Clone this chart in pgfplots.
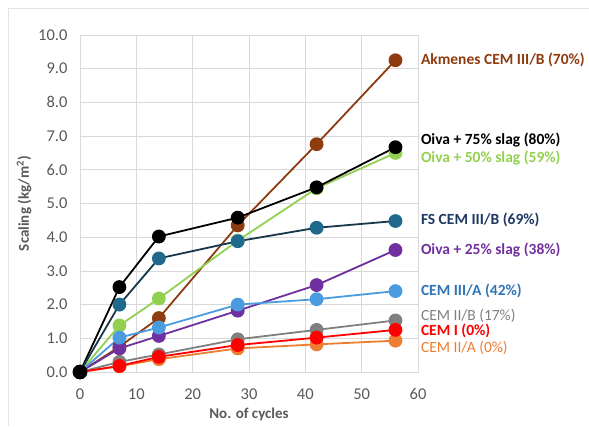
\documentclass[border=0pt]{standalone}
\usepackage{pgfplots}
\pgfplotsset{compat=1.18}
\usepackage{fontspec}
\setmainfont{Carlito}
\definecolor{cbrown}{HTML}{8E3B10}
\definecolor{cgreen}{HTML}{92D050}
\definecolor{cfsline}{HTML}{17384A}
\definecolor{cfsmark}{HTML}{1F6A8C}
\definecolor{cfslab}{HTML}{1F3864}
\definecolor{cpurple}{HTML}{7030A0}
\definecolor{cblue}{HTML}{4A9BE0}
\definecolor{cbluelab}{HTML}{2E75B6}
\definecolor{cgray}{HTML}{808080}
\definecolor{cred}{HTML}{FF0000}
\definecolor{corange}{HTML}{ED7D31}
\definecolor{ctick}{HTML}{595959}
\definecolor{cgrid}{HTML}{D9D9D9}
\begin{document}
\begin{tikzpicture}
\useasboundingbox (0pt,0pt) rectangle (589pt,426pt);
\draw[cgrid!70, line width=0.8pt] (8pt,0pt) -- (8pt,418pt) -- (589pt,418pt);
\begin{axis}[
  at={(80pt,54pt)}, anchor=south west,
  scale only axis, width=338pt, height=337pt,
  xmin=0, xmax=60, ymin=0, ymax=10,
  xtick={0,10,...,60}, ytick={0,1,...,10},
  grid=major, major grid style={cgrid, line width=0.8pt},
  axis line style={cgrid, line width=0.8pt},
  tick style={draw=none},
  ticklabel style={font=\fontsize{16.5}{18}\selectfont, text=ctick},
  yticklabel style={/pgf/number format/fixed, /pgf/number format/fixed zerofill, /pgf/number format/precision=1},
  /pgf/number format/assume math mode=true,
  xticklabel style={yshift=-13pt},
  yticklabel style={xshift=-9pt},
  xlabel={\bfseries No. of cycles}, ylabel={\bfseries Scaling (kg/m\textsuperscript{2})},
  label style={font=\fontsize{15}{17}\selectfont\bfseries, text=ctick},
  xlabel style={yshift=-1pt},
  ylabel style={yshift=0pt},
  clip=false,
  every axis plot/.append style={line width=1.8pt, mark=*, mark size=6pt},
]
\addplot[cbrown, mark options={fill=cbrown}] coordinates {(0,0) (7,0.75) (14,1.6) (28,4.35) (42,6.76) (56,9.25)};
\addplot[cgreen, mark options={fill=cgreen}] coordinates {(0,0) (7,1.38) (14,2.18) (28,3.9) (42,5.45) (56,6.5)};
\addplot[black, mark options={fill=black}] coordinates {(0,0) (7,2.52) (14,4.02) (28,4.58) (42,5.48) (56,6.67)};
\addplot[cfsline, mark options={fill=cfsmark, draw=cfsmark}] coordinates {(0,0) (7,2.0) (14,3.37) (28,3.88) (42,4.28) (56,4.48)};
\addplot[cgray, mark options={fill=cgray}] coordinates {(0,0) (7,0.3) (14,0.52) (28,0.97) (42,1.25) (56,1.53)};
\addplot[corange, mark options={fill=corange}] coordinates {(0,0) (7,0.17) (14,0.38) (28,0.7) (42,0.82) (56,0.93)};
\addplot[cred, mark options={fill=cred}] coordinates {(0,0) (7,0.18) (14,0.45) (28,0.8) (42,1.02) (56,1.25)};
\addplot[cpurple, mark options={fill=cpurple}] coordinates {(0,0) (7,0.7) (14,1.07) (28,1.82) (42,2.58) (56,3.62)};
\addplot[cblue, mark options={fill=cblue}] coordinates {(0,0) (7,1.02) (14,1.32) (28,2.0) (42,2.16) (56,2.4)};
\addplot[black, mark options={fill=black}, mark size=6.5pt] coordinates {(0,0)};
\begin{scope}[every node/.style={anchor=west, font=\fontsize{15.5}{17}\selectfont\bfseries, inner sep=0pt}]
\node[text=cbrown] at (axis cs:60.5,9.25) {Akmenes CEM III/B (70\%)};
\node[text=black] at (axis cs:60.5,6.88) {Oiva + 75\% slag (80\%)};
\node[text=cgreen] at (axis cs:60.5,6.35) {Oiva + 50\% slag (59\%)};
\node[text=cfslab] at (axis cs:60.5,4.51) {FS CEM III/B (69\%)};
\node[text=cpurple] at (axis cs:60.5,3.62) {Oiva + 25\% slag (38\%)};
\node[text=cbluelab] at (axis cs:60.5,2.41) {CEM III/A (42\%)};
\node[text=cgray, font=\fontsize{15.5}{17}\selectfont] at (axis cs:60.5,1.67) {CEM II/B (17\%)};
\node[text=cred] at (axis cs:60.5,1.22) {CEM I (0\%)};
\node[text=corange, font=\fontsize{15.5}{17}\selectfont] at (axis cs:60.5,0.72) {CEM II/A (0\%)};
\end{scope}
\end{axis}
\end{tikzpicture}
\end{document}
